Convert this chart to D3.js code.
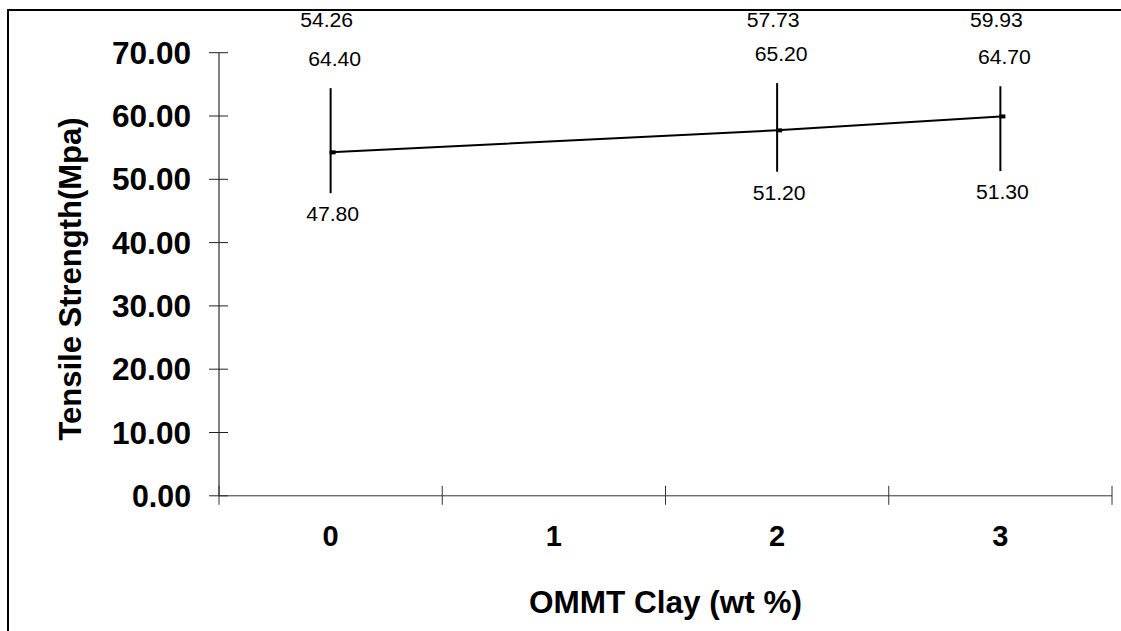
<!DOCTYPE html>
<html>
<head>
<meta charset="utf-8">
<script src="https://cdn.jsdelivr.net/npm/d3@7.9.0/dist/d3.min.js"></script>
<style>
  body { margin: 0; background: #fff; }
  svg { display: block; font-family: Arial, 'Liberation Sans', sans-serif; }
</style>
</head>
<body>
<div id="chart"></div>
<script>
// categories on the x axis (1 wt % has no measurement)
const categories = ['0', '1', '2', '3'];
const clay = ['0', '2', '3'];
const means = [54.26, 57.73, 59.93];
const highs = [64.4, 65.2, 64.7];
const lows = [47.8, 51.2, 51.3];
const yTicks = [0, 10, 20, 30, 40, 50, 60, 70];

const width = 1121;
const height = 631;
const area = { left: 219, right: 1112, top: 52.7, bottom: 495.8 };

const points = clay.map((c, i) => ({ c, mean: means[i], high: highs[i], low: lows[i] }));

const svg = d3.select('#chart')
  .append('svg')
  .attr('width', width)
  .attr('height', height);

// outer frame (only the top and left edges show in the picture)
svg.append('path')
  .attr('d', `M8,${height + 2}V10H${width + 2}`)
  .attr('fill', 'none')
  .attr('stroke', '#000')
  .attr('stroke-width', 2);

const xScale = d3.scaleBand()
  .domain(categories)
  .range([area.left, area.right]);

const yScale = d3.scaleLinear()
  .domain([0, 70])
  .range([area.bottom, area.top]);

// y axis: grey line, ticks crossing it
const yAxis = svg.append('g')
  .attr('transform', `translate(${area.left},0)`);
yAxis.append('line')
  .attr('y1', yScale(70)).attr('y2', yScale(0))
  .attr('stroke', '#808080').attr('stroke-width', 2);
yAxis.selectAll('line.tick')
  .data(yTicks)
  .join('line')
  .attr('class', 'tick')
  .attr('x1', -10).attr('x2', 9)
  .attr('y1', (d) => yScale(d)).attr('y2', (d) => yScale(d))
  .attr('stroke', '#222').attr('stroke-width', 1);
yAxis.selectAll('text')
  .data(yTicks)
  .join('text')
  .attr('x', -28)
  .attr('y', (d) => yScale(d))
  .attr('dy', '0.36em')
  .attr('text-anchor', 'end')
  .attr('font-size', 31)
  .attr('font-weight', 'bold')
  .attr('textLength', (d) => (d >= 10 ? 79 : 59))
  .attr('lengthAdjust', 'spacingAndGlyphs')
  .text((d) => d.toFixed(2));

// x axis: thin line with ticks between categories
const xAxis = svg.append('g')
  .attr('transform', `translate(0,${area.bottom})`);
xAxis.append('line')
  .attr('x1', area.left).attr('x2', area.right)
  .attr('stroke', '#333').attr('stroke-width', 1);
const xTickPos = categories.map((c) => xScale(c)).concat([xScale(categories[categories.length - 1]) + xScale.bandwidth()]);
xAxis.selectAll('line.tick')
  .data(xTickPos)
  .join('line')
  .attr('class', 'tick')
  .attr('x1', (d) => d).attr('x2', (d) => d)
  .attr('y1', -10).attr('y2', 9)
  .attr('stroke', '#333').attr('stroke-width', 1);
xAxis.selectAll('text')
  .data(categories)
  .join('text')
  .attr('x', (d) => xScale(d) + xScale.bandwidth() / 2)
  .attr('y', 40)
  .attr('dy', '0.36em')
  .attr('text-anchor', 'middle')
  .attr('font-size', 29)
  .attr('font-weight', 'bold')
  .text((d) => d);

// axis titles
svg.append('text')
  .attr('x', (area.left + area.right) / 2)
  .attr('y', 602)
  .attr('dy', '0.36em')
  .attr('text-anchor', 'middle')
  .attr('font-size', 31.5)
  .attr('font-weight', 'bold')
  .text('OMMT Clay (wt %)');

svg.append('text')
  .attr('transform', 'translate(70,279) rotate(-90)')
  .attr('dy', '0.36em')
  .attr('text-anchor', 'middle')
  .attr('font-size', 31)
  .attr('font-weight', 'bold')
  .text('Tensile Strength(Mpa)');

const cx = (d) => xScale(d.c) + xScale.bandwidth() / 2;

// error bars
svg.append('g')
  .selectAll('line')
  .data(points)
  .join('line')
  .attr('x1', cx).attr('x2', cx)
  .attr('y1', (d) => yScale(d.high))
  .attr('y2', (d) => yScale(d.low))
  .attr('stroke', '#000')
  .attr('stroke-width', 2);

// mean line
svg.append('path')
  .datum(points)
  .attr('fill', 'none')
  .attr('stroke', '#000')
  .attr('stroke-width', 2)
  .attr('d', d3.line().x(cx).y((d) => yScale(d.mean)));

svg.append('g')
  .selectAll('rect')
  .data(points)
  .join('rect')
  .attr('x', (d) => cx(d) - 1)
  .attr('y', (d) => yScale(d.mean) - 2)
  .attr('width', 6).attr('height', 4)
  .attr('fill', '#000');

// data labels
const labels = svg.append('g')
  .attr('font-size', 20)
  .attr('text-anchor', 'middle');

labels.selectAll('text.mean')
  .data(points)
  .join('text')
  .attr('class', 'mean')
  .attr('x', (d) => cx(d) - 4)
  .attr('y', 20)
  .attr('dy', '0.36em')
  .attr('textLength', 53)
  .attr('lengthAdjust', 'spacingAndGlyphs')
  .text((d) => d.mean.toFixed(2));

labels.selectAll('text.high')
  .data(points)
  .join('text')
  .attr('class', 'high')
  .attr('x', (d) => cx(d) + 4)
  .attr('y', (d) => yScale(d.high) - 29)
  .attr('dy', '0.36em')
  .attr('textLength', 53)
  .attr('lengthAdjust', 'spacingAndGlyphs')
  .text((d) => d.high.toFixed(2));

labels.selectAll('text.low')
  .data(points)
  .join('text')
  .attr('class', 'low')
  .attr('x', (d) => cx(d) + 2)
  .attr('y', (d) => yScale(d.low) + 21)
  .attr('dy', '0.36em')
  .attr('textLength', 53)
  .attr('lengthAdjust', 'spacingAndGlyphs')
  .text((d) => d.low.toFixed(2));
</script>
</body>
</html>
